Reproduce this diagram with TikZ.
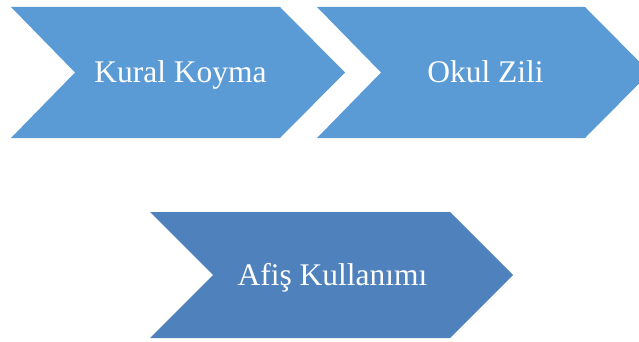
\documentclass[tikz,border=0pt]{standalone}
\usepackage{fontspec}
\setmainfont{Liberation Serif}
\usepackage{tikz}
\usetikzlibrary{positioning}
\definecolor{chevlight}{HTML}{5B9BD5}
\definecolor{chevdark}{HTML}{4F81BD}

\begin{document}
\begin{tikzpicture}[x=1pt, y=-1pt, %
        chev/.style={fill=#1, draw=none},
        lbl/.style={text=white, anchor=base, inner sep=0pt,
          font=\fontsize{31.5}{38}\selectfont}
        ]
        \useasboundingbox (0,0) rectangle (639,342);
        \clip (0,0) rectangle (639,342);
        % top row
        \fill[chev=chevlight] (11,7) -- (280,7) -- (345,72.5) -- (280,138) -- (11,138) -- (75,72.5) -- cycle;
        \fill[chev=chevlight] (317,7) -- (585,7) -- (650,72.5) -- (585,138) -- (317,138) -- (381,72.5) -- cycle;
        % bottom row
        \fill[chev=chevdark] (150,212) -- (450,212) -- (513,275) -- (450,338) -- (150,338) -- (213,275) -- cycle;
        \node[lbl] (kural) at (180.5,82.5) {Kural Koyma};
        \node[lbl] (okul) at (485.5,82.5) {Okul Zili};
        \node[lbl] (afis) at (332.5,285) {Afiş Kullanımı};
      \end{tikzpicture}
\end{document}
